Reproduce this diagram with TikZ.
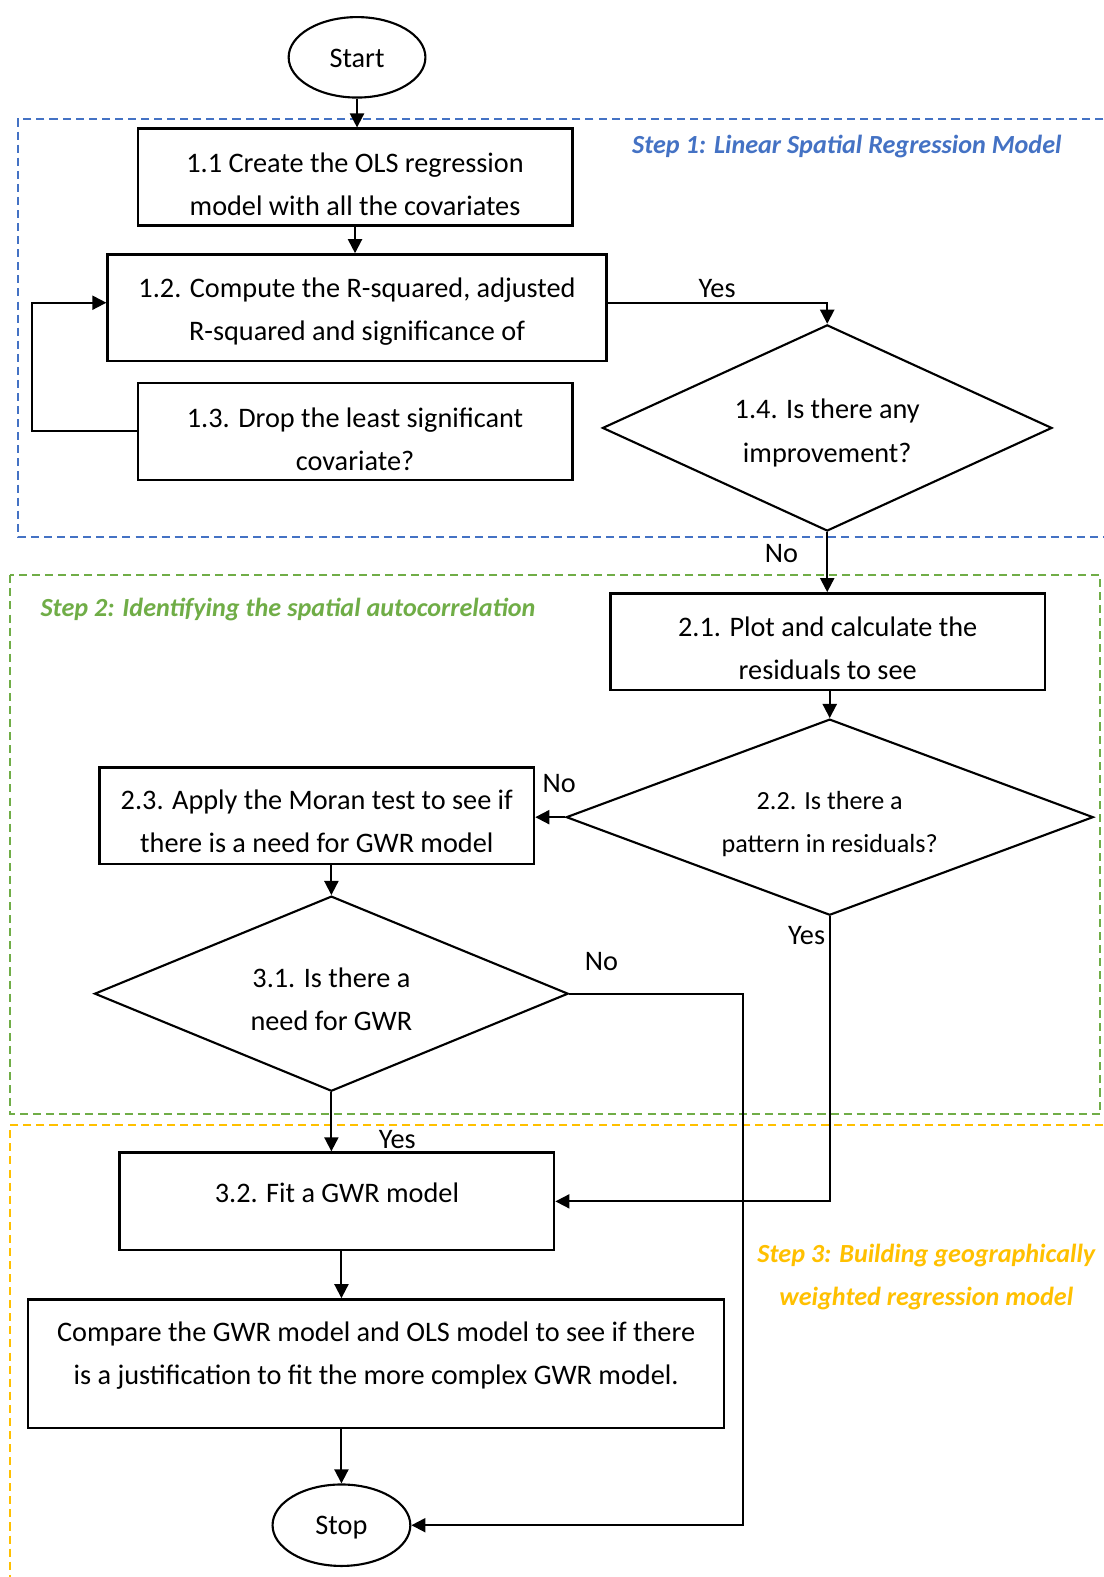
\documentclass[tikz,border=0pt]{standalone}
\usepackage{fontspec}
\setmainfont{Carlito}
\usetikzlibrary{shapes.geometric,arrows.meta}
\newdimen\pxu \pxu=0.02cm
\definecolor{stepblue}{HTML}{4472C4}
\definecolor{stepgreen}{HTML}{70AD47}
\definecolor{stepgold}{HTML}{FFC000}
% extra room above a first line / below a last line, to place text inside its box
\newcommand\padtop[2]{\raisebox{0pt}[\dimexpr\height+\pxu*#1\relax][\depth]{#2}}
\newcommand\padbot[2]{\raisebox{0pt}[\height][\dimexpr\depth+\pxu*#1\relax]{#2}}
\begin{document}
\begin{tikzpicture}[x=0.02cm,y=-0.02cm,
  font=\fontsize{16pt}{24.4pt}\selectfont,
  box/.style={draw,line width=1.4pt,rectangle,align=center,inner sep=0pt},
  term/.style={draw,line width=1.2pt,ellipse,inner sep=0pt},
  decision/.style={draw,line width=1.2pt,diamond,aspect=2.3,align=center,inner sep=0pt},
  arr/.style={line width=1.1pt,-{Triangle[length=0.28cm,width=0.28cm]}},
  frame/.style={line width=1.1pt,dash pattern=on 0.16cm off 0.1cm},
  steplabel/.style={font=\fontsize{14.8pt}{24.4pt}\selectfont\bfseries\itshape,align=center,inner sep=0pt},
  ans/.style={inner sep=0pt}]
\useasboundingbox (0,0) rectangle (1097,1568);

% dashed step frames
\draw[frame,stepblue] (1097,118) -- (18,118) -- (18,534) -- (1097,534);
\draw[frame,stepgreen] (10,572) rectangle (1094,1108);
\draw[frame,stepgold] (1097,1119) -- (10,1119) -- (10,1568);

% step titles
\node[steplabel,text=stepblue] (t1) at (842,146) {Step 1: Linear Spatial Regression Model};
\node[steplabel,text=stepgreen,anchor=west] (t2) at (40,606) {Step 2: Identifying the spatial autocorrelation};
\node[steplabel,text=stepgold] (t3) at (921,1270) {Step 3: Building geographically\\weighted regression model};

% flow nodes
\node[term,minimum width=136\pxu,minimum height=80\pxu] (start) at (355,57) {\padtop{2}{Start}};
\node[box,minimum width=432\pxu,minimum height=96\pxu] (b11) at (353,176)
  {\padtop{14}{1.1 Create the OLS regression}\\model with all the covariates};
\node[box,minimum width=496\pxu,minimum height=106\pxu] (b12) at (355,306)
  {\padtop{8}{1.2. Compute the R-squared, adjusted}\\R-squared and significance of};
\node[box,minimum width=432\pxu,minimum height=96\pxu] (b13) at (353,429)
  {\padtop{16}{1.3. Drop the least significant}\\covariate?};
\node[decision,minimum width=447\pxu,minimum height=205\pxu] (d14) at (822.5,425.5)
  {\padtop{10}{1.4. Is there any}\\improvement?};
\node[box,minimum width=432\pxu,minimum height=96\pxu] (b21) at (823,638)
  {\padtop{14}{2.1. Plot and calculate the}\\residuals to see};
\node[decision,minimum width=524\pxu,minimum height=195\pxu,
  font=\fontsize{14.8pt}{24.4pt}\selectfont] (d22) at (825,812.5)
  {\padtop{14}{2.2. Is there a}\\pattern in residuals?};
\node[box,minimum width=432\pxu,minimum height=96\pxu] (b23) at (315,811)
  {\padtop{12}{2.3. Apply the Moran test to see if}\\there is a need for GWR model};
\node[decision,minimum width=471\pxu,minimum height=194\pxu] (d31) at (329.5,988)
  {\padtop{12}{3.1. Is there a}\\need for GWR};
\node[box,minimum width=432\pxu,minimum height=97\pxu] (b32) at (335,1194.5)
  {\padbot{18}{3.2. Fit a GWR model}};
\node[box,minimum width=692\pxu,minimum height=128\pxu] (b4) at (374,1356)
  {Compare the GWR model and OLS model to see if there\\\padbot{16}{is a justification to fit the more complex GWR model.}};
\node[term,minimum width=137\pxu,minimum height=81\pxu] (stop) at (339.5,1516.5) {\padtop{4}{Stop}};

% connectors
\draw[arr] (start.south) -- (start.south |- b11.north);
\draw[arr] (b11.south) -- (b11.south |- b12.north);
\draw[arr] ([yshift=0.1cm]b12.east) -| (d14.north);
\draw[arr] (b13.west) -- ++(-104,0) |- ([yshift=0.1cm]b12.west);
\draw[arr] (d14.south) -- (d14.south |- b21.north);
\draw[arr] (b21.south -| d22.north) -- (d22.north);
\draw[arr] (d22.west) -- (b23.east |- d22.west);
\draw[arr] (d31.north |- b23.south) -- (d31.north);
\draw[arr] (d22.south) |- (b32.east);
\draw[arr] (d31.east) -- ++(173,0) |- (stop.east);
\draw[arr] (d31.south) -- (d31.south |- b32.north);
\draw[arr] (stop.north |- b32.south) -- (stop.north |- b4.north);
\draw[arr] (stop.north |- b4.south) -- (stop.north);

% branch answers
\node[ans] (y14) at (713,287) {Yes};
\node[ans] (n14) at (777,550) {No};
\node[ans] (n22) at (556,779) {No};
\node[ans] (y22) at (802,930) {Yes};
\node[ans] (n31) at (598,956) {No};
\node[ans] (y31) at (395,1133) {Yes};
\end{tikzpicture}
\end{document}
